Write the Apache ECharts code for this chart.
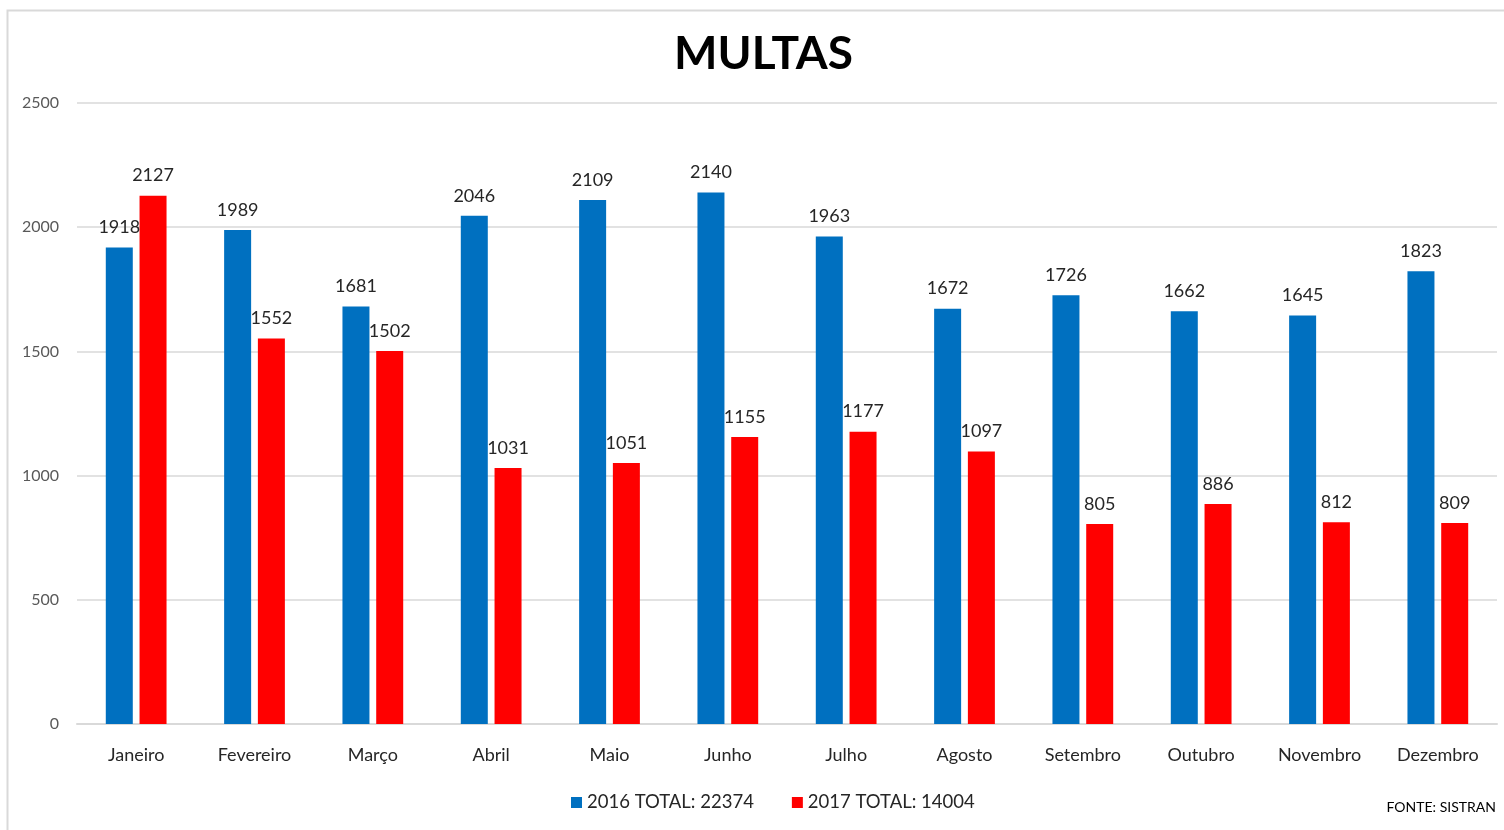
<!DOCTYPE html>
<html><head><meta charset="utf-8">
<script src="https://cdn.jsdelivr.net/npm/echarts@6/dist/echarts.min.js"></script>
<style>html,body{margin:0;padding:0;background:#fff}#c{width:1504px;height:830px}</style>
</head><body><div id="c"></div>
<script>
const months = ['Janeiro','Fevereiro','Março','Abril','Maio','Junho','Julho','Agosto','Setembro','Outubro','Novembro','Dezembro'];
const values2016 = [1918,1989,1681,2046,2109,2140,1963,1672,1726,1662,1645,1823];
const values2017 = [2127,1552,1502,1031,1051,1155,1177,1097,805,886,812,809];
const seriesNames = ['2016 TOTAL: 22374','2017 TOTAL: 14004'];
const yTicks = [0,500,1000,1500,2000,2500];

const chart = echarts.init(document.getElementById('c'));
const font = 'Lato, "Open Sans", sans-serif';
chart.setOption({
  animation:false,
  textStyle:{fontFamily:font},
  title:{text:'MULTAS',left:669,top:26,textStyle:{fontSize:46,fontWeight:'bold',color:'#000',fontFamily:font}},
  graphic:[
    {type:'rect',shape:{x:7.5,y:10.5,width:1510,height:900},style:{fill:'none',stroke:'#d9d9d9',lineWidth:2},z:-1},
    {type:'text',right:8,top:800,style:{text:'FONTE: SISTRAN',fontSize:14,fill:'#000',fontFamily:font}}
  ],
  legend:{bottom:13,left:566,itemWidth:11,itemHeight:11,itemGap:38,icon:'rect',
    textStyle:{fontSize:18.5,color:'#262626',fontFamily:font},data:seriesNames},
  grid:{left:77,right:7,top:103,bottom:106},
  xAxis:{type:'category',data:months,
    axisLine:{lineStyle:{color:'#d9d9d9',width:2}},axisTick:{show:false},
    axisLabel:{fontSize:18,color:'#262626',margin:22,fontFamily:font}},
  yAxis:{type:'value',min:yTicks[0],max:yTicks[yTicks.length-1],interval:500,
    axisLine:{show:false},axisTick:{show:false},
    splitLine:{lineStyle:{color:'#d9d9d9',width:1.5}},
    axisLabel:{fontSize:16,color:'#595959',margin:18,fontFamily:font,formatter:v=>String(v)}},
  series:[
    {name:seriesNames[0],type:'bar',data:values2016,barWidth:27,barGap:'25%',
      itemStyle:{color:'#0070C0'},
      label:{show:true,position:'top',distance:11,fontSize:18,color:'#262626',fontFamily:font}},
    {name:seriesNames[1],type:'bar',data:values2017,barWidth:27,
      itemStyle:{color:'#FF0000'},
      label:{show:true,position:'top',distance:11,fontSize:18,color:'#262626',fontFamily:font}}
  ]
});
</script></body></html>
